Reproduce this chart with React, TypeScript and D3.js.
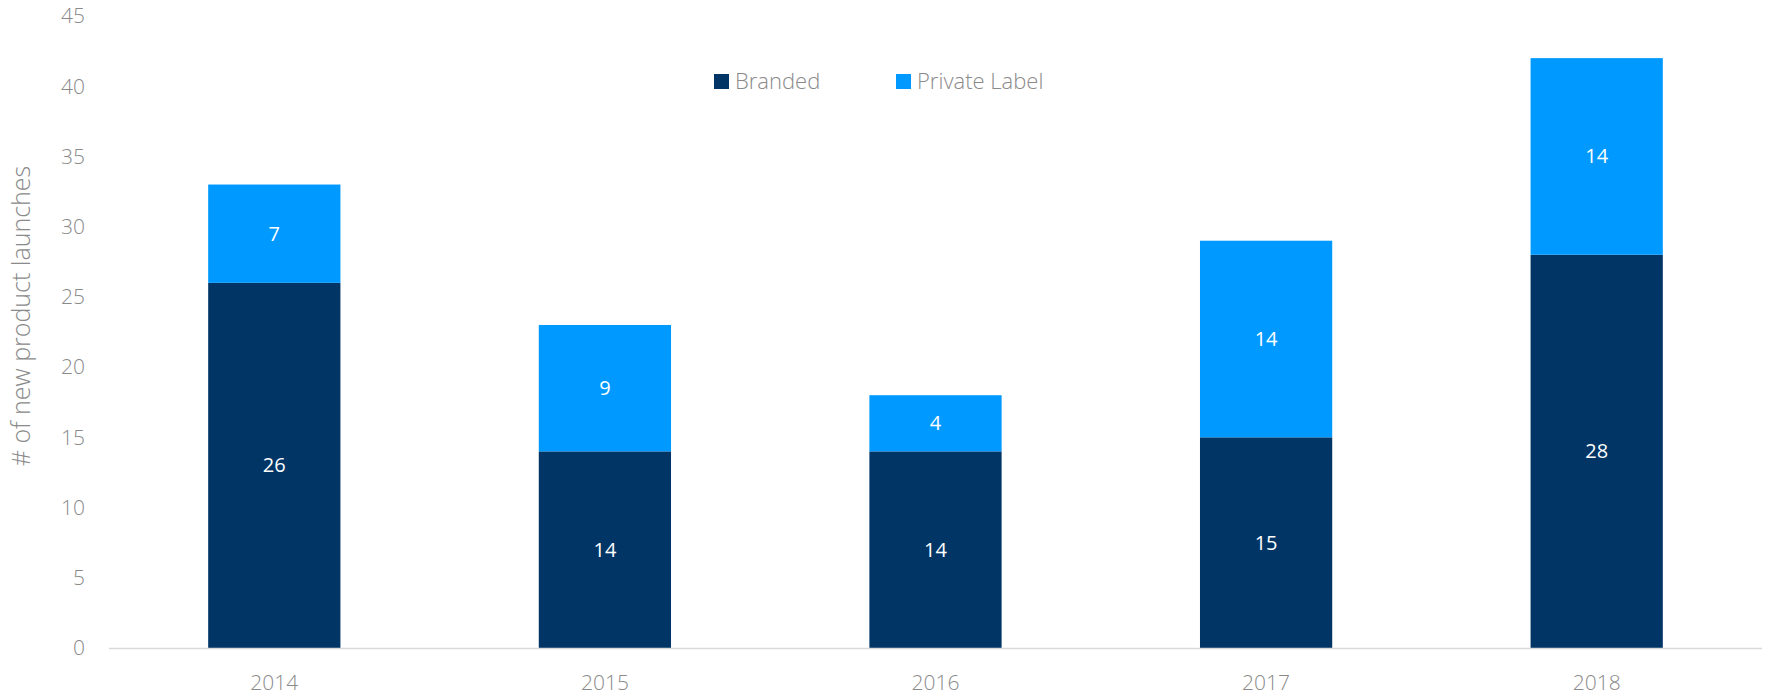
import React from "react";
import * as d3 from "d3";

const years = ["2014", "2015", "2016", "2017", "2018"];
const branded = [26, 14, 14, 15, 28];
const privateLabel = [7, 9, 4, 14, 14];
const yTicks = [0, 5, 10, 15, 20, 25, 30, 35, 40, 45];
const seriesNames = ["Branded", "Private Label"];
const colors = ["#003566", "#0099FF"];

const W = 1769;
const H = 696;
const left = 109;
const right = 1762;
const y0 = 648;
const yTop = 16;
const font = "'Open Sans', 'Segoe UI', sans-serif";
const grey = "#8a8a8a";

export default function App() {
  const x = d3.scaleBand<string>().domain(years).range([left, right]).paddingInner(0.6).paddingOuter(0.3);
  const y = d3.scaleLinear().domain([0, 45]).range([y0, yTop]);
  const rows = years.map((yr, i) => ({ year: yr, Branded: branded[i], "Private Label": privateLabel[i] }));
  const stack = d3.stack<any>().keys(seriesNames)(rows);

  return (
    <svg width={W} height={H} style={{ position: "absolute", left: 0, top: 0, background: "#fff" }}>
      {yTicks.map((t) => (
        <text key={t} x={85} y={y(t)} dy="0.35em" textAnchor="end" fontFamily={font} fontWeight={300} fontSize={21} fill={grey}>
          {t}
        </text>
      ))}
      <text
        transform={`translate(21,316) rotate(-90)`}
        textAnchor="middle"
        dy="0.35em"
        fontFamily={font}
        fontWeight={300}
        fontSize={25}
        fill={grey}
      >
        # of new product launches
      </text>
      {stack.map((s, si) =>
        s.map((d, i) => (
          <g key={`${si}-${i}`}>
            <rect
              x={x(years[i])}
              y={y(d[1])}
              width={x.bandwidth()}
              height={y(d[0]) - y(d[1])}
              fill={colors[si]}
            />
            <text
              x={(x(years[i]) as number) + x.bandwidth() / 2}
              y={(y(d[0]) + y(d[1])) / 2}
              dy="0.35em"
              textAnchor="middle"
              fontFamily={font}
              fontSize={20}
              fill="#fff"
            >
              {d[1] - d[0]}
            </text>
          </g>
        ))
      )}
      <line x1={left} x2={right} y1={y0 + 0.5} y2={y0 + 0.5} stroke="#d9d9d9" strokeWidth={1.5} />
      {years.map((yr) => (
        <text
          key={yr}
          x={(x(yr) as number) + x.bandwidth() / 2}
          y={683}
          dy="0.35em"
          textAnchor="middle"
          fontFamily={font}
          fontWeight={300}
          fontSize={21}
          fill={grey}
        >
          {yr}
        </text>
      ))}
      {seriesNames.map((n, i) => {
        const lx = i === 0 ? 714 : 896;
        return (
          <g key={n}>
            <rect x={lx} y={74} width={15} height={15} fill={colors[i]} />
            <text x={lx + 21} y={88.5} fontFamily={font} fontWeight={300} fontSize={22} fill={grey}>
              {n}
            </text>
          </g>
        );
      })}
    </svg>
  );
}
